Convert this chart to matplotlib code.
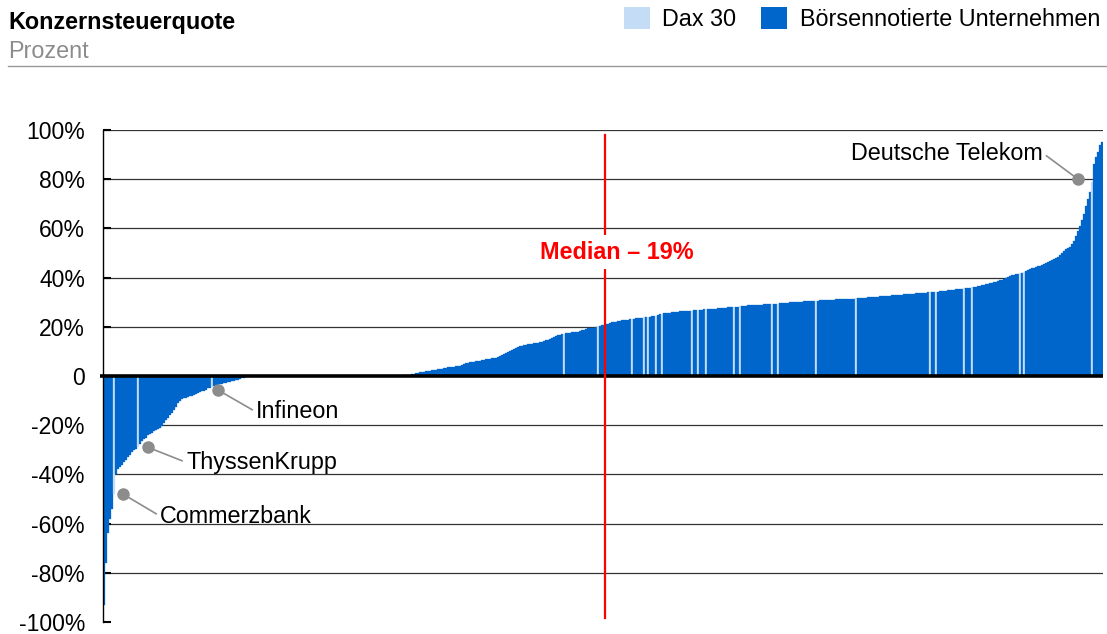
import matplotlib
matplotlib.use("Agg")
import matplotlib.pyplot as plt
from matplotlib.patches import Patch
from matplotlib.lines import Line2D

plt.rcParams['font.family'] = ['Liberation Sans', 'DejaVu Sans']

# Konzernsteuerquote je Unternehmen (sortiert), in Prozent
quote = [
    -93, -76, -64, -58, -54, -48, -40, -38, -37, -36,
    -35, -34, -33, -32, -31, -30, -29.5, -29, -27.5, -26.5,
    -25.5, -25, -24, -23.5, -23, -22.5, -22, -21.5, -21, -20.5,
    -19, -18, -17, -16, -15, -14, -12.5, -11, -10, -9.5,
    -9, -8.8, -8.5, -8.2, -8, -7.7, -7.3, -7, -6.5, -6.2,
    -6, -5.5, -5, -4.7, -4.3, -4, -3.8, -3.6, -3.4, -3.2,
    -3, -2.8, -2.6, -2.4, -2.2, -2, -1.8, -1.6, -1.3, -1,
    -0.7, -0.4, 0, 0, 0, 0, 0, 0, 0, 0,
    0, 0, 0, 0, 0, 0, 0, 0, 0, 0,
    0, 0, 0, 0, 0, 0, 0, 0, 0, 0,
    0, 0, 0, 0, 0, 0, 0, 0, 0, 0,
    0, 0, 0, 0, 0, 0, 0, 0, 0, 0,
    0, 0, 0, 0, 0, 0, 0, 0, 0, 0,
    0, 0, 0, 0, 0, 0, 0, 0, 0, 0,
    0, 0, 0, 0, 0, 0, 0, 0, 0, 0,
    0.2, 0.3, 0.4, 0.5, 0.8, 1.0, 1.2, 1.4, 1.5, 1.6,
    1.8, 2.0, 2.1, 2.2, 2.3, 2.5, 2.6, 2.7, 2.8, 3.0,
    3.2, 3.4, 3.5, 3.6, 3.7, 3.8, 3.9, 4.0, 4.2, 4.5,
    4.8, 5.1, 5.4, 5.6, 5.7, 5.8, 5.9, 6.0, 6.2, 6.4,
    6.6, 6.8, 7.0, 7.1, 7.2, 7.3, 7.5, 7.8, 8.2, 8.6,
    9.0, 9.4, 9.8, 10.2, 10.6, 11.0, 11.4, 11.7, 12.0, 12.3,
    12.6, 12.8, 13.0, 13.1, 13.2, 13.3, 13.4, 13.5, 13.7, 13.9,
    14.2, 14.5, 14.8, 15.1, 15.4, 15.8, 16.2, 16.5, 16.8, 17.0,
    17.0, 17.3, 17.5, 17.6, 17.7, 17.8, 17.9, 18.0, 18.2, 18.5,
    18.8, 19.1, 19.4, 19.5, 19.6, 19.7, 19.8, 20.0, 20.3, 20.6,
    20.8, 21.0, 21.3, 21.6, 21.8, 22.0, 22.1, 22.3, 22.5, 22.6,
    22.7, 22.8, 22.9, 23.0, 23.1, 23.3, 23.4, 23.5, 23.6, 23.7,
    23.8, 23.9, 24.0, 24.1, 24.2, 24.3, 24.4, 24.8, 25.1, 25.3,
    25.5, 25.6, 25.7, 25.8, 25.9, 26.0, 26.1, 26.2, 26.3, 26.4,
    26.4, 26.5, 26.5, 26.6, 26.6, 26.7, 26.8, 26.9, 27.0, 27.0,
    27.1, 27.2, 27.2, 27.3, 27.3, 27.4, 27.4, 27.5, 27.6, 27.6,
    27.7, 27.8, 27.9, 28.0, 28.0, 28.1, 28.1, 28.2, 28.3, 28.4,
    28.5, 28.6, 28.7, 28.7, 28.8, 28.8, 28.9, 28.9, 29.0, 29.0,
    29.1, 29.1, 29.2, 29.2, 29.3, 29.3, 29.4, 29.4, 29.5, 29.5,
    29.6, 29.7, 29.8, 29.9, 30.0, 30.0, 30.1, 30.1, 30.2, 30.2,
    30.3, 30.3, 30.4, 30.4, 30.5, 30.5, 30.6, 30.6, 30.7, 30.7,
    30.8, 30.8, 30.9, 30.9, 31.0, 31.0, 31.1, 31.1, 31.2, 31.2,
    31.3, 31.3, 31.4, 31.4, 31.5, 31.5, 31.6, 31.6, 31.7, 31.8,
    31.8, 31.9, 32.0, 32.0, 32.1, 32.2, 32.2, 32.3, 32.4, 32.4,
    32.5, 32.6, 32.6, 32.7, 32.8, 32.8, 32.9, 33.0, 33.0, 33.1,
    33.2, 33.2, 33.3, 33.4, 33.4, 33.5, 33.6, 33.6, 33.7, 33.8,
    33.8, 33.9, 34.0, 34.0, 34.1, 34.1, 34.2, 34.3, 34.4, 34.5,
    34.6, 34.7, 34.8, 34.9, 35.0, 35.1, 35.2, 35.3, 35.4, 35.5,
    35.6, 35.7, 35.8, 35.9, 36.0, 36.1, 36.3, 36.5, 36.7, 36.9,
    37.1, 37.3, 37.5, 37.7, 37.9, 38.1, 38.3, 38.6, 38.9, 39.2,
    39.5, 39.8, 40.2, 40.6, 40.9, 41.1, 41.3, 41.5, 41.7, 41.9,
    42.1, 42.5, 43.0, 43.4, 43.7, 44.0, 44.3, 44.6, 44.9, 45.2,
    45.5, 45.8, 46.2, 46.6, 47.0, 47.5, 48.0, 48.5, 49.2, 50.0,
    50.8, 51.5, 52.0, 52.5, 53.5, 55.0, 57.0, 59.0, 61.0, 63.5,
    66.0, 69.0, 72.0, 75.0, 79.0, 86.0, 89.0, 91.0, 94.0, 95.0,
]

# Positionen der Dax-30-Unternehmen in der sortierten Reihe
dax_idx = [5, 17, 54, 230, 247, 264, 270, 272, 276, 279, 294, 297, 301,
           315, 318, 334, 337, 356, 376, 413, 416, 430, 434, 458, 460, 494]

# Beschriftete Unternehmen: Name, Position, Wert, Textversatz (pt), Ausrichtung
labels = [
    ("Commerzbank", 9.5, -48, (26.6, -15.8), "left"),
    ("ThyssenKrupp", 22, -29, (27.4, -10.8), "left"),
    ("Infineon", 57, -5.7, (27.4, -15.8), "left"),
    ("Deutsche Telekom", 487, 80, (-25.2, 18.7), "right"),
]

median_label = "Median – 19%"
yticks = [100, 80, 60, 40, 20, 0, -20, -40, -60, -80, -100]
yticklabels = ["100%", "80%", "60%", "40%", "20%", "0",
               "-20%", "-40%", "-60%", "-80%", "-100%"]

dark = "#0066cc"
light = "#c4dcf6"
fs = 16.8

n = len(quote)
colors = [light if i in dax_idx else dark for i in range(n)]

fig = plt.figure(figsize=(11.07, 6.34), dpi=100)
ax = fig.add_axes([103 / 1107, 1 - 622 / 634, 1000 / 1107, 492 / 634])

ax.bar(range(n), quote, width=1.0, color=colors, edgecolor=colors,
       linewidth=0.2, zorder=2)

ax.set_xlim(-0.5, n - 0.5)
ax.set_ylim(-100, 100)
ax.set_yticks(yticks)
ax.set_yticklabels(yticklabels, fontsize=16.5)
ax.set_xticks([])
ax.tick_params(axis='y', direction='in', length=6, width=1.5, pad=13)

for s in ['top', 'right', 'bottom']:
    ax.spines[s].set_visible(False)
ax.spines['left'].set_linewidth(1.0)
ax.spines['left'].set_zorder(5)

for t in yticks:
    if t not in (0, -100):
        ax.axhline(t, color="#333333", lw=0.9, zorder=1)
ax.plot([-0.003, 1.0], [0.5, 0.5], transform=ax.transAxes, color="black",
        lw=2.6, zorder=4, clip_on=False, solid_capstyle='butt')

# Median-Linie
mid = n / 2 + 0.5
ax.plot([mid, mid], [98, -98.4], color="red", lw=1.6, zorder=5)
ax.text(mid + 6, 50.4, median_label, color="red", fontsize=fs,
        fontweight="bold", ha="center", va="center", zorder=6,
        bbox=dict(facecolor="white", edgecolor="none", pad=4))

for name, xi, val, off, ha in labels:
    ax.plot(xi, val, 'o', color="#8c8c8c", ms=8, zorder=6, clip_on=False)
    rel = (0, 0.5) if ha == "left" else (1, 0.5)
    ax.annotate(name, xy=(xi, val), xytext=off, textcoords="offset points",
                fontsize=fs, ha=ha, va="center", zorder=6,
                arrowprops=dict(arrowstyle="-", color="#8c8c8c", lw=1.2,
                                relpos=rel, patchA=None, shrinkA=3,
                                shrinkB=0))

# Kopfzeile
fig.text(8 / 1107, 1 - 29 / 634, "Konzernsteuerquote", fontsize=fs,
         fontweight="bold", va="baseline", ha="left")
fig.text(8 / 1107, 1 - 58 / 634, "Prozent", fontsize=fs, color="#8c8c8c",
         va="baseline", ha="left")
fig.add_artist(Line2D([8 / 1107, 1.0], [1 - 66 / 634, 1 - 66 / 634],
                      color="#999999", lw=1.0))

handles = [Patch(facecolor=light, edgecolor="none", label="Dax 30"),
           Patch(facecolor=dark, edgecolor="none", label="Börsennotierte Unternehmen")]
fig.legend(handles=handles, loc="upper right", bbox_to_anchor=(1.0, 1.0),
           ncol=2, frameon=False, fontsize=fs, handlelength=1.1,
           handleheight=1.1, handletextpad=0.55, columnspacing=1.05,
           borderaxespad=0.1, borderpad=0.2)

fig.savefig("out.png", dpi=100)
